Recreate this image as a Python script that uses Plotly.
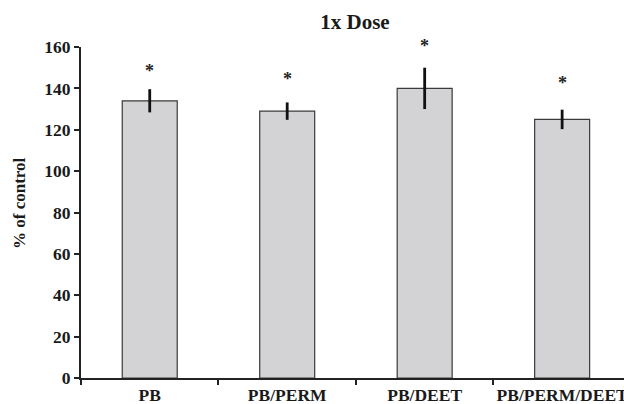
import plotly.graph_objects as go

categories = ["PB", "PB/PERM", "PB/DEET", "PB/PERM/DEET"]
values = [134, 129, 140, 125]
errors = [5.6, 4.2, 10, 4.7]
star_y = [150, 146, 162, 144]
y_ticks = [0, 20, 40, 60, 80, 100, 120, 140, 160]

FONT = "Liberation Serif"
W, H = 624, 404
L, R, T, B = 81, 0, 47, 26
Y_MAX = 160
PW, PH = W - L - R, H - T - B

fig = go.Figure()
fig.add_trace(go.Bar(
    x=categories, y=values, width=0.4,
    marker=dict(color="#d3d3d5", line=dict(color="#3a3a3a", width=1.2)),
    error_y=dict(type="data", array=errors, visible=True, color="#111111",
                 thickness=2.8, width=0),
    showlegend=False,
))

for c, sy in zip(categories, star_y):
    fig.add_annotation(x=c, y=sy / Y_MAX, yref="y domain", text="*",
                       showarrow=False,
                       font=dict(family=FONT, size=18, color="#222222"),
                       yanchor="middle", yshift=-3)

# y-axis title
fig.add_annotation(text="% of control", textangle=-90, showarrow=False,
                   xref="paper", yref="paper",
                   x=(19 - L) / PW, y=(H - B - 203) / PH,
                   xanchor="center", yanchor="middle",
                   font=dict(family=FONT, size=17, weight="bold", color="#1a1a1a"))

fig.update_layout(
    width=W, height=H,
    margin=dict(l=L, r=R, t=T, b=B, pad=0, autoexpand=False),
    plot_bgcolor="white", paper_bgcolor="white",
    font=dict(family=FONT, size=17, color="#1a1a1a", weight="bold"),
    title=dict(text="1x Dose", x=(355 - L) / PW, xanchor="center",
               xref="paper", y=1 - 22 / H, yanchor="middle", yref="container",
               font=dict(family=FONT, size=21, weight="bold", color="#1a1a1a")),
)

fig.update_xaxes(
    range=[-0.5, 3.45], showline=True, linecolor="#222222", linewidth=2,
    ticks="outside", tickson="boundaries", ticklen=5, tickwidth=2,
    tickcolor="#222222", showgrid=False, zeroline=False,
    tickangle=0, automargin=False,
    tickfont=dict(family=FONT, size=17.5, weight="bold"),
)
fig.update_yaxes(
    range=[0, Y_MAX], tickvals=y_ticks, showline=True, linecolor="#222222",
    linewidth=2, ticks="outside", ticklen=5, tickwidth=2, tickcolor="#222222",
    showgrid=False, zeroline=False, automargin=False,
    tickfont=dict(family=FONT, size=17.5, weight="bold"),
)

fig.write_html("out.html")
